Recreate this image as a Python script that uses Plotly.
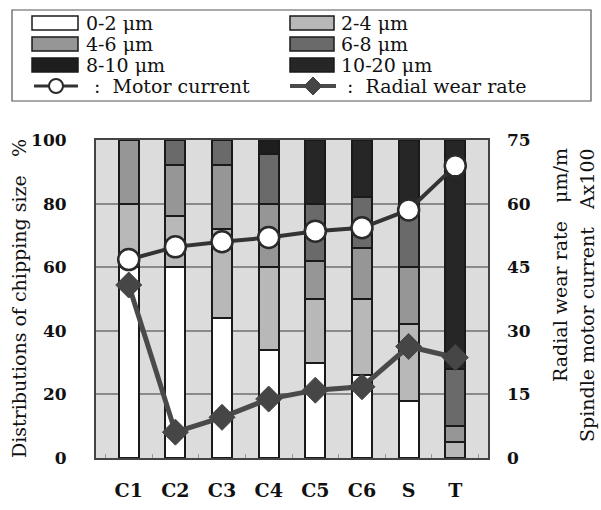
import plotly.graph_objects as go

categories = ["C1", "C2", "C3", "C4", "C5", "C6", "S", "T"]

# chipping size distribution (%), stacked
size_0_2 = [60, 60, 44, 34, 30, 26, 18, 0]
size_2_4 = [20, 16, 28, 26, 20, 24, 24, 5]
size_4_6 = [20, 16, 20, 20, 12, 16, 18, 5]
size_6_8 = [0, 8, 8, 15.5, 18, 16, 18, 18]
size_8_10 = [0, 0, 0, 4.5, 0, 0, 0, 0]
size_10_20 = [0, 0, 0, 0, 20, 18, 22, 72]

motor_current = [46.8, 49.8, 51.0, 52.0, 53.5, 54.3, 58.5, 68.9]
radial_wear_rate = [40.8, 6.1, 9.6, 13.9, 16.0, 16.8, 26.3, 23.7]

size_names = ["0-2 μm", "2-4 μm", "4-6 μm", "6-8 μm", "8-10 μm", "10-20 μm"]
size_series = [size_0_2, size_2_4, size_4_6, size_6_8, size_8_10, size_10_20]
size_colors = ["#ffffff", "#b8b8b8", "#969696", "#6a6a6a", "#1e1e1e", "#262626"]

left_ticks = [0, 20, 40, 60, 80, 100]
right_ticks = [0, 15, 30, 45, 60, 75]

SERIF = "DejaVu Serif"
W, H = 601, 510
L, R, T, B = 96, 113, 140, 52
PW, PH = W - L - R, H - T - B

def px(x):
    return (x - L) / PW

def py(y):
    return (H - B - y) / PH

fig = go.Figure()
for name, vals, col in zip(size_names, size_series, size_colors):
    fig.add_trace(go.Bar(
        x=categories, y=vals, name=name, width=0.43,
        marker=dict(color=col, line=dict(color="#1a1a1a", width=2)),
        showlegend=False,
    ))

fig.add_trace(go.Scatter(
    x=categories, y=radial_wear_rate, yaxis="y2", mode="lines+markers",
    name="Radial wear rate",
    line=dict(color="#4a4a4a", width=5),
    marker=dict(symbol="diamond", size=20, color="#464646",
                line=dict(color="#464646", width=1)),
    showlegend=False,
))
fig.add_trace(go.Scatter(
    x=categories, y=motor_current, yaxis="y2", mode="lines+markers",
    name="Motor current",
    line=dict(color="#333333", width=4),
    marker=dict(symbol="circle", size=21, color="#ffffff",
                line=dict(color="#2a2a2a", width=2.5)),
    showlegend=False,
))

# ---- custom legend (box, swatches, labels) ----
shapes = []
annotations = []
shapes.append(dict(type="rect", xref="paper", yref="paper",
                   x0=px(12), x1=px(591), y0=py(101), y1=py(10),
                   line=dict(color="#555555", width=1.2), fillcolor="white"))
row_y = [23, 44, 65]
col_x = [(32, 78, 84), (290, 334, 339)]
for i, (name, col) in enumerate(zip(size_names, size_colors)):
    r, c = divmod(i, 2)
    x0, x1, tx = col_x[c]
    yc = row_y[r]
    shapes.append(dict(type="rect", xref="paper", yref="paper",
                       x0=px(x0), x1=px(x1), y0=py(yc + 7), y1=py(yc - 7),
                       line=dict(color="#1a1a1a", width=1.5), fillcolor=col))
    annotations.append(dict(xref="paper", yref="paper", x=px(tx), y=py(yc),
                            text=name, showarrow=False, xanchor="left", yanchor="middle",
                            font=dict(family=SERIF, size=19, color="#111")))
ly = 86
# motor current legend symbol
shapes.append(dict(type="line", xref="paper", yref="paper",
                   x0=px(34), x1=px(78), y0=py(ly), y1=py(ly),
                   line=dict(color="#333", width=3)))
shapes.append(dict(type="circle", xref="paper", yref="paper",
                   x0=px(49), x1=px(63), y0=py(ly + 7), y1=py(ly - 7),
                   line=dict(color="#2a2a2a", width=2), fillcolor="white"))
annotations.append(dict(xref="paper", yref="paper", x=px(92), y=py(ly),
                        text=":\u00a0\u00a0Motor current", showarrow=False,
                        xanchor="left", yanchor="middle",
                        font=dict(family=SERIF, size=19, color="#111")))
# radial wear legend symbol
shapes.append(dict(type="line", xref="paper", yref="paper",
                   x0=px(290), x1=px(336), y0=py(ly), y1=py(ly),
                   line=dict(color="#4a4a4a", width=4)))
dx, dyy = 9 / PW, 9 / PH
cx, cy = px(313), py(ly)
shapes.append(dict(type="path", xref="paper", yref="paper",
                   path=f"M {cx-dx},{cy} L {cx},{cy+dyy} L {cx+dx},{cy} L {cx},{cy-dyy} Z",
                   line=dict(color="#464646", width=1), fillcolor="#464646"))
annotations.append(dict(xref="paper", yref="paper", x=px(345), y=py(ly),
                        text=":\u00a0\u00a0Radial wear rate", showarrow=False,
                        xanchor="left", yanchor="middle",
                        font=dict(family=SERIF, size=19, color="#111")))

# axis titles
annotations.append(dict(xref="paper", yref="paper", x=px(19), y=py(299),
                        text="Distributions of chipping size\u00a0\u00a0\u00a0%", textangle=-90,
                        showarrow=False, xanchor="center", yanchor="middle",
                        font=dict(family=SERIF, size=19, color="#111")))
annotations.append(dict(xref="paper", yref="paper", x=px(560), y=py(265),
                        text="Radial wear rate\u00a0\u00a0\u00a0μm/m", textangle=-90,
                        showarrow=False, xanchor="center", yanchor="middle",
                        font=dict(family=SERIF, size=19, color="#111")))
annotations.append(dict(xref="paper", yref="paper", x=px(587), y=py(295),
                        text="Spindle motor current\u00a0\u00a0\u00a0Ax100", textangle=-90,
                        showarrow=False, xanchor="center", yanchor="middle",
                        font=dict(family=SERIF, size=19, color="#111")))

fig.update_layout(
    width=W, height=H,
    margin=dict(l=L, r=R, t=T, b=B, autoexpand=False),
    paper_bgcolor="white",
    plot_bgcolor="#dcdcdc",
    barmode="stack",
    bargap=0.57,
    shapes=shapes,
    annotations=annotations,
    font=dict(family=SERIF, color="#111"),
    xaxis=dict(
        type="category", automargin=False,
        showline=True, linecolor="#444", linewidth=2, mirror=True,
        ticks="inside", tickson="boundaries", ticklen=4, tickcolor="#999",
        tickfont=dict(family=SERIF, size=19, color="#111", weight="bold"),
        ticklabelstandoff=14,
        showgrid=False,
    ),
    yaxis=dict(
        range=[0, 100], tickvals=left_ticks, automargin=False,
        showline=True, linecolor="#444", linewidth=2, mirror=True,
        showgrid=True, gridcolor="#8a8a8a", gridwidth=1.5,
        zeroline=False,
        ticks="", ticklabelstandoff=24,
        tickfont=dict(family=SERIF, size=17, color="#111", weight="bold"),
    ),
    yaxis2=dict(
        range=[0, 75], tickvals=right_ticks, overlaying="y", side="right",
        automargin=False,
        showgrid=False, zeroline=False, showline=False,
        ticks="", ticklabelstandoff=18,
        tickfont=dict(family=SERIF, size=17, color="#111", weight="bold"),
    ),
)

fig.write_html(
    "out.html",
    config={"displayModeBar": False},
    post_script="document.body.style.margin='0';document.body.style.overflow='hidden';",
)
